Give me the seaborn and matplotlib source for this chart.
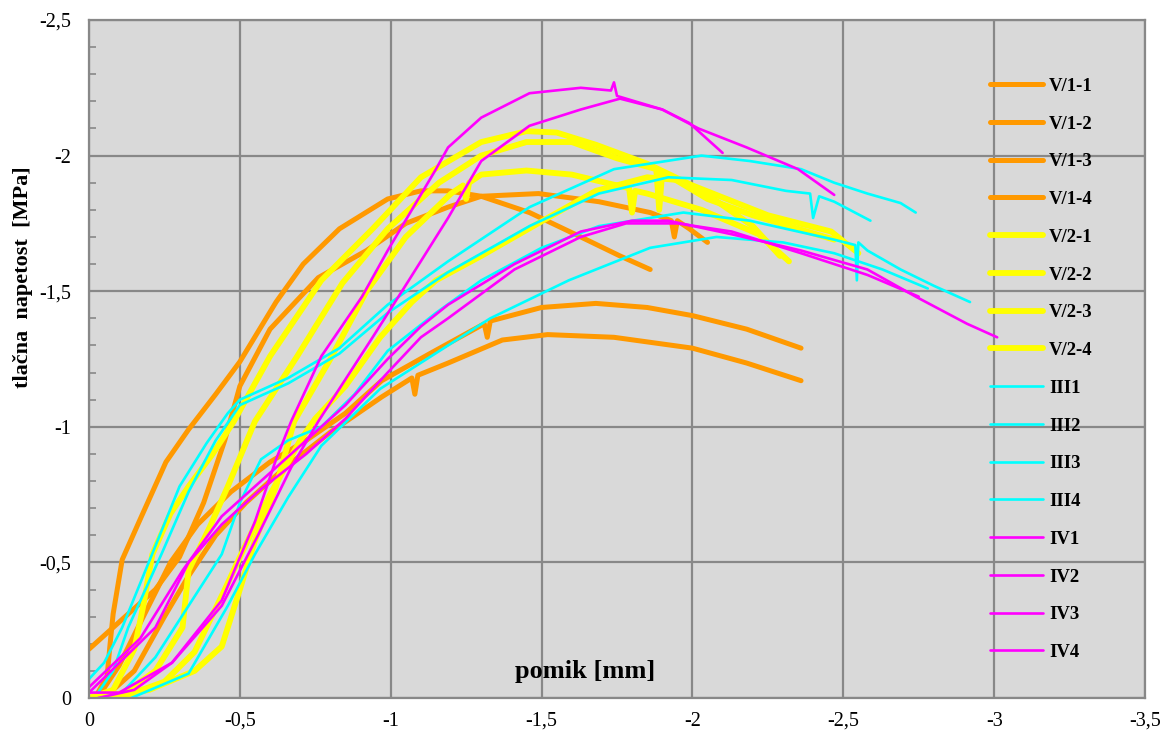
import numpy as np
import pandas as pd
import matplotlib
matplotlib.use("Agg")
import matplotlib.pyplot as plt
import seaborn as sns

# ---------------- data (pomik [mm], tlačna napetost [MPa]) ----------------
series_names = ["V/1-1", "V/1-2", "V/1-3", "V/1-4",
                "V/2-1", "V/2-2", "V/2-3", "V/2-4",
                "III1", "III2", "III3", "III4",
                "IV1", "IV2", "IV3", "IV4"]

x_V11 = [-0.03, -0.06, -0.07, -0.08, -0.11, -0.17, -0.255, -0.33, -0.42, -0.50, -0.62, -0.71, -0.83, -0.99, -1.10, -1.19, -1.30, -1.46, -1.63, -1.76, -1.86]
y_V11 = [-0.02, -0.08, -0.20, -0.31, -0.51, -0.66, -0.87, -0.99, -1.12, -1.24, -1.46, -1.60, -1.73, -1.84, -1.87, -1.87, -1.85, -1.79, -1.70, -1.63, -1.58]

x_V12 = [0.0, -0.03, -0.11, -0.22, -0.30, -0.38, -0.45, -0.50, -0.60, -0.76, -0.92, -1.05, -1.19, -1.30, -1.49, -1.69, -1.86, -1.93, -1.94, -1.95, -1.99, -2.05]
y_V12 = [-0.18, -0.21, -0.29, -0.40, -0.52, -0.72, -0.95, -1.15, -1.36, -1.55, -1.65, -1.75, -1.81, -1.85, -1.86, -1.83, -1.79, -1.76, -1.70, -1.76, -1.73, -1.68]

x_V13 = [-0.04, -0.10, -0.18, -0.27, -0.36, -0.47, -0.60, -0.72, -0.85, -0.97, -1.13, -1.31, -1.32, -1.33, -1.50, -1.68, -1.85, -2.00, -2.18, -2.36]
y_V13 = [-0.02, -0.12, -0.30, -0.50, -0.64, -0.76, -0.87, -0.95, -1.05, -1.17, -1.27, -1.38, -1.33, -1.39, -1.44, -1.455, -1.44, -1.41, -1.36, -1.29]

x_V14 = [-0.06, -0.15, -0.25, -0.33, -0.42, -0.52, -0.65, -0.80, -0.97, -1.07, -1.08, -1.09, -1.19, -1.37, -1.52, -1.74, -2.00, -2.18, -2.36]
y_V14 = [-0.01, -0.10, -0.30, -0.45, -0.60, -0.72, -0.85, -0.98, -1.11, -1.18, -1.12, -1.19, -1.235, -1.32, -1.34, -1.33, -1.29, -1.235, -1.17]

x_V21 = [0.0, -0.08, -0.15, -0.18, -0.21, -0.27, -0.33, -0.41, -0.48, -0.60, -0.77, -0.94, -1.10, -1.30, -1.45, -1.55, -1.68, -1.85, -2.00, -2.25, -2.46, -2.55]
y_V21 = [0.0, -0.03, -0.18, -0.34, -0.53, -0.68, -0.78, -0.90, -1.02, -1.26, -1.54, -1.73, -1.92, -2.05, -2.09, -2.085, -2.04, -1.97, -1.89, -1.78, -1.72, -1.64]

x_V22 = [-0.02, -0.12, -0.22, -0.31, -0.33, -0.40, -0.46, -0.55, -0.69, -0.84, -0.99, -1.16, -1.30, -1.45, -1.60, -1.75, -1.88, -1.89, -1.90, -2.05, -2.20, -2.35, -2.47]
y_V22 = [0.0, -0.02, -0.10, -0.26, -0.47, -0.63, -0.78, -1.02, -1.26, -1.53, -1.73, -1.90, -2.00, -2.05, -2.05, -1.99, -1.95, -1.80, -1.94, -1.84, -1.78, -1.73, -1.69]

x_V23 = [-0.05, -0.20, -0.35, -0.44, -0.50, -0.55, -0.62, -0.68, -0.80, -0.92, -1.05, -1.20, -1.24, -1.25, -1.26, -1.30, -1.45, -1.60, -1.75, -1.79, -1.80, -1.81, -1.85, -2.03, -2.22, -2.32]
y_V23 = [0.0, -0.03, -0.10, -0.19, -0.40, -0.58, -0.78, -1.02, -1.25, -1.50, -1.70, -1.86, -1.89, -1.84, -1.90, -1.93, -1.945, -1.93, -1.89, -1.88, -1.79, -1.87, -1.86, -1.80, -1.71, -1.61]

x_V24 = [-0.10, -0.25, -0.35, -0.45, -0.50, -0.60, -0.70, -0.75, -0.85, -0.965, -1.07, -1.15, -1.30, -1.52, -1.68, -1.85, -1.95, -2.07, -2.20, -2.29]
y_V24 = [0.0, -0.06, -0.17, -0.40, -0.52, -0.75, -0.95, -1.03, -1.15, -1.33, -1.46, -1.54, -1.63, -1.77, -1.87, -1.92, -1.91, -1.84, -1.74, -1.63]

x_III1 = [0.0, -0.05, -0.11, -0.22, -0.30, -0.39, -0.46, -0.50, -0.58, -0.66, -0.83, -0.99, -1.19, -1.46, -1.74, -2.03, -2.19, -2.36, -2.47, -2.58, -2.69, -2.74]
y_III1 = [-0.07, -0.13, -0.26, -0.56, -0.78, -0.94, -1.05, -1.10, -1.14, -1.18, -1.29, -1.45, -1.61, -1.81, -1.95, -2.00, -1.98, -1.95, -1.90, -1.86, -1.825, -1.79]

x_III2 = [-0.03, -0.08, -0.13, -0.24, -0.33, -0.42, -0.50, -0.66, -0.83, -0.99, -1.19, -1.46, -1.69, -1.92, -2.13, -2.31, -2.39, -2.40, -2.42, -2.47, -2.59]
y_III2 = [-0.02, -0.10, -0.26, -0.53, -0.76, -0.95, -1.08, -1.16, -1.27, -1.42, -1.57, -1.74, -1.86, -1.92, -1.91, -1.87, -1.86, -1.77, -1.85, -1.83, -1.76]

x_III3 = [-0.11, -0.22, -0.33, -0.44, -0.50, -0.57, -0.66, -0.77, -0.88, -0.99, -1.15, -1.30, -1.50, -1.69, -1.97, -2.19, -2.47, -2.54, -2.545, -2.55, -2.58, -2.69, -2.80, -2.92]
y_III3 = [-0.02, -0.15, -0.34, -0.53, -0.72, -0.88, -0.95, -1.00, -1.12, -1.28, -1.42, -1.54, -1.66, -1.74, -1.79, -1.76, -1.69, -1.67, -1.54, -1.68, -1.65, -1.58, -1.52, -1.46]

x_III4 = [-0.14, -0.33, -0.46, -0.55, -0.66, -0.77, -0.965, -1.19, -1.33, -1.59, -1.86, -2.08, -2.30, -2.47, -2.63, -2.78]
y_III4 = [0.0, -0.09, -0.34, -0.53, -0.74, -0.93, -1.14, -1.30, -1.40, -1.54, -1.66, -1.70, -1.68, -1.64, -1.58, -1.51]

x_IV1 = [-0.03, -0.15, -0.275, -0.44, -0.55, -0.62, -0.67, -0.77, -0.905, -0.99, -1.07, -1.15, -1.19, -1.30, -1.46, -1.63, -1.73, -1.74, -1.75, -1.90, -2.02, -2.18, -2.35, -2.47]
y_IV1 = [0.0, -0.03, -0.13, -0.36, -0.65, -0.88, -1.02, -1.26, -1.48, -1.65, -1.80, -1.95, -2.03, -2.14, -2.23, -2.25, -2.24, -2.27, -2.22, -2.17, -2.10, -2.03, -1.95, -1.855]

x_IV2 = [0.0, -0.10, -0.275, -0.44, -0.56, -0.67, -0.76, -0.94, -1.06, -1.19, -1.30, -1.46, -1.63, -1.76, -1.90, -1.99, -2.10]
y_IV2 = [-0.02, -0.02, -0.13, -0.34, -0.60, -0.85, -1.02, -1.33, -1.54, -1.77, -1.98, -2.11, -2.17, -2.21, -2.17, -2.12, -2.01]

x_IV3 = [0.0, -0.17, -0.31, -0.44, -0.57, -0.72, -0.85, -0.99, -1.10, -1.19, -1.41, -1.63, -1.80, -1.92, -2.13, -2.36, -2.58, -2.74, -2.91, -3.01]
y_IV3 = [-0.04, -0.22, -0.47, -0.67, -0.80, -0.95, -1.08, -1.25, -1.37, -1.45, -1.60, -1.72, -1.76, -1.76, -1.71, -1.65, -1.58, -1.48, -1.38, -1.33]

x_IV4 = [0.0, -0.22, -0.33, -0.44, -0.57, -0.72, -0.85, -0.99, -1.10, -1.19, -1.41, -1.63, -1.78, -1.95, -2.13, -2.36, -2.58, -2.75]
y_IV4 = [-0.02, -0.26, -0.50, -0.64, -0.77, -0.90, -1.03, -1.20, -1.33, -1.40, -1.58, -1.70, -1.75, -1.75, -1.72, -1.64, -1.56, -1.48]

x_ticks = [0, -0.5, -1, -1.5, -2, -2.5, -3, -3.5]
x_tick_labels = ["0", "-0,5", "-1", "-1,5", "-2", "-2,5", "-3", "-3,5"]
y_ticks = [0, -0.5, -1, -1.5, -2, -2.5]
y_tick_labels = ["0", "-0,5", "-1", "-1,5", "-2", "-2,5"]

xs_all = [x_V11, x_V12, x_V13, x_V14, x_V21, x_V22, x_V23, x_V24,
          x_III1, x_III2, x_III3, x_III4, x_IV1, x_IV2, x_IV3, x_IV4]
ys_all = [y_V11, y_V12, y_V13, y_V14, y_V21, y_V22, y_V23, y_V24,
          y_III1, y_III2, y_III3, y_III4, y_IV1, y_IV2, y_IV3, y_IV4]

colors = ["#FF9900"] * 4 + ["#FFFF00"] * 4 + ["#00FFFF"] * 4 + ["#FF00FF"] * 4
widths = [3.6] * 4 + [4.2] * 4 + [1.9] * 4 + [1.9] * 4

# ---------------- plot ----------------
sns.set_theme(style="white")
plt.rcParams['font.family'] = ['Liberation Serif', 'DejaVu Serif']

fig = plt.figure(figsize=(11.63, 7.34), dpi=100)
ax = fig.add_axes([89 / 1163, 1 - 698 / 734, (1145 - 89) / 1163, (698 - 20) / 734])
ax.set_facecolor("#D9D9D9")

for name, xs, ys, c, lw in zip(series_names, xs_all, ys_all, colors, widths):
    sns.lineplot(x=xs, y=ys, sort=False, estimator=None, color=c, linewidth=lw,
                 label=name, ax=ax, solid_capstyle="round", solid_joinstyle="round")

ax.set_xlim(0, -3.5)
ax.set_ylim(0, -2.5)
ax.set_xticks(x_ticks)
ax.set_xticklabels(x_tick_labels)
ax.set_yticks(y_ticks)
ax.set_yticklabels(y_tick_labels)
ax.set_yticks(np.arange(0, -2.5, -0.1), minor=True)

ax.grid(True, which="major", color="#888888", linewidth=1.6)
ax.set_axisbelow(True)
for sp in ax.spines.values():
    sp.set_color("#888888")
    sp.set_linewidth(1.6)

ax.tick_params(axis="y", which="both", direction="in", color="#888888", left=True,
               labelsize=14.5, pad=13)
ax.tick_params(axis="y", which="minor", length=5, width=1.2)
ax.tick_params(axis="y", which="major", length=5, width=1.2)
ax.tick_params(axis="x", which="both", direction="in", length=0, labelsize=14.5, pad=10,
               bottom=True)
for lab in ax.get_xticklabels() + ax.get_yticklabels():
    lab.set_color("black")

ax.set_xlabel("pomik [mm]", fontsize=19, fontweight="bold", color="black")
ax.xaxis.set_label_coords(0.47, 0.056)
ax.set_ylabel("tlačna  napetost  [MPa]", fontsize=16, fontweight="bold", color="black")
ax.yaxis.set_label_coords(-0.053, 0.62)

leg = ax.legend(loc="upper left", bbox_to_anchor=(0.853, 0.915), frameon=False,
                prop={"family": "Liberation Serif", "weight": "bold", "size": 13.5},
                handlelength=2.85, handletextpad=0.3, labelspacing=1.10,
                borderpad=0, borderaxespad=0)
for t in leg.get_texts():
    t.set_color("black")

fig.savefig("out.png", dpi=100, facecolor="white")
